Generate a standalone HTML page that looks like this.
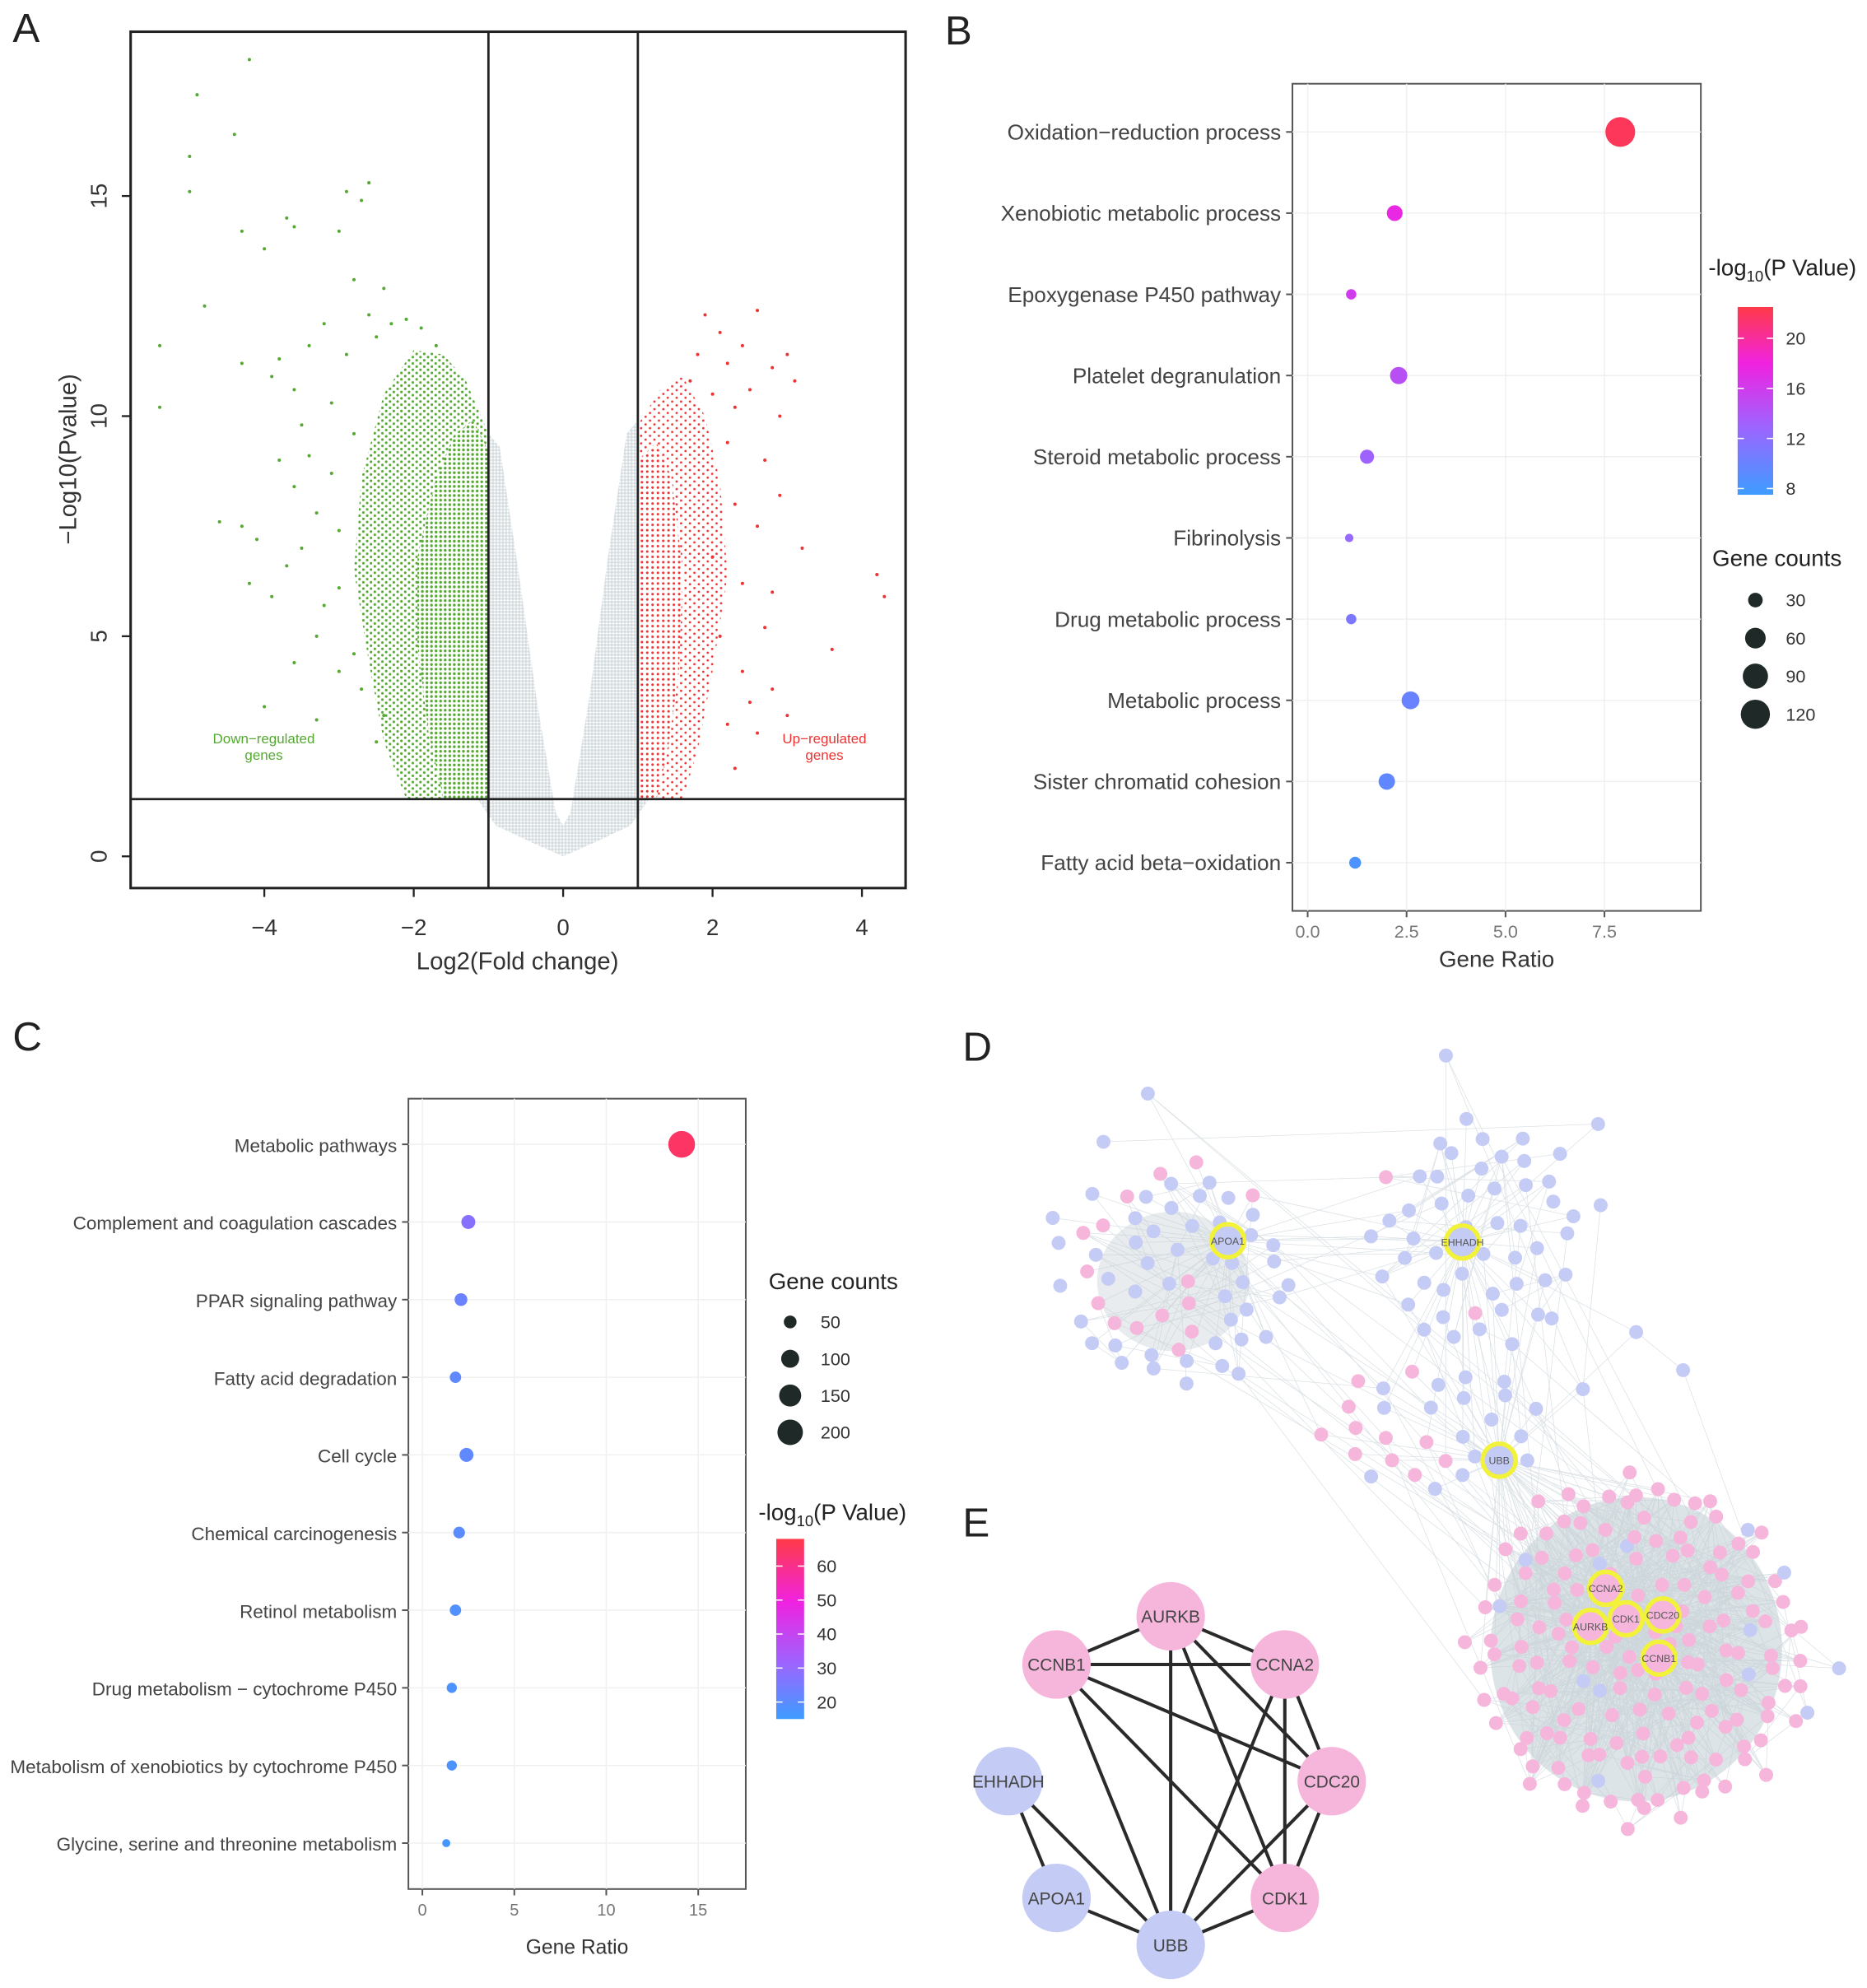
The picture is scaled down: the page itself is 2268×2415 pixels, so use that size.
<!DOCTYPE html>
<html><head><meta charset="utf-8"><style>
html,body{margin:0;padding:0;background:#fff}
svg{display:block;font-family:"Liberation Sans",sans-serif}
</style></head><body>
<svg id="fig" width="2268" height="2415" viewBox="0 0 1472 1567" preserveAspectRatio="none" xmlns="http://www.w3.org/2000/svg">
<defs>
<pattern id="pg" width="3.6" height="3.6" patternUnits="userSpaceOnUse"><rect width="3.6" height="3.6" fill="#fff"/><circle cx="1.8" cy="1.8" r="1.1" fill="#55a831"/></pattern>
<pattern id="pgs" width="6" height="5" patternUnits="userSpaceOnUse"><rect width="6" height="5" fill="#fff"/><circle cx="1.5" cy="1.5" r="1.0" fill="#55a831"/><circle cx="4.5" cy="4" r="1.0" fill="#55a831"/></pattern>
<pattern id="pr" width="4.2" height="4.2" patternUnits="userSpaceOnUse"><rect width="4.2" height="4.2" fill="#fff"/><circle cx="2.1" cy="2.1" r="1.0" fill="#ee3333"/></pattern>
<pattern id="prs" width="7" height="6" patternUnits="userSpaceOnUse"><rect width="7" height="6" fill="#fff"/><circle cx="1.5" cy="1.5" r="0.9" fill="#ee3333"/><circle cx="5" cy="4.5" r="0.9" fill="#ee3333"/></pattern>
<pattern id="pgr" width="2.6" height="2.6" patternUnits="userSpaceOnUse"><rect width="2.6" height="2.6" fill="#fff"/><circle cx="1.3" cy="1.3" r="1.15" fill="#d4dcdf"/></pattern>
<linearGradient id="gradB" x1="0" y1="1" x2="0" y2="0"><stop offset="0" stop-color="#3d9cff"/><stop offset="0.35" stop-color="#9a66ff"/><stop offset="0.7" stop-color="#f022e0"/><stop offset="1" stop-color="#ff3a48"/></linearGradient>
<linearGradient id="gradC" x1="0" y1="1" x2="0" y2="0"><stop offset="0" stop-color="#3d9cff"/><stop offset="0.3" stop-color="#9a66ff"/><stop offset="0.65" stop-color="#f022e0"/><stop offset="1" stop-color="#ff3a48"/></linearGradient>
</defs>
<g id="root"></g>
</svg>
<script>
// ---------- Panel A data ----------
const aXTicks=[-4,-2,0,2,4];
const aYTicks=[0,5,10,15];
const greenPts=[[-4.2,18.1],[-4.9,17.3],[-4.4,16.4],[-5.0,15.9],[-5.0,15.1],[-4.3,14.2],[-4.0,13.8],[-3.7,14.5],[-3.6,14.3],[-2.9,15.1],[-2.6,15.3],[-2.7,14.9],[-3.0,14.2],[-5.4,11.6],[-5.4,10.2],[-4.8,12.5],[-4.3,11.2],[-4.3,7.5],[-4.1,7.2],[-4.2,6.2],[-4.6,7.6],[-3.5,7.0],[-3.3,5.0],[-2.8,13.1],[-2.4,12.9],[-3.9,10.9],[-3.8,11.3],[-3.6,10.6],[-3.5,9.8],[-3.4,9.1],[-3.6,8.4],[-3.7,6.6],[-3.4,11.6],[-3.2,12.1],[-3.1,10.3],[-3.1,8.7],[-3.0,7.4],[-3.0,6.1],[-3.2,5.7],[-2.9,11.4],[-2.8,9.6],[-2.8,4.6],[-2.7,3.8],[-3.0,4.2],[-3.3,7.8],[-3.8,9.0],[-3.9,5.9],[-2.6,12.3],[-2.5,11.8],[-2.3,12.1],[-2.1,12.2],[-1.9,12.0],[-1.7,11.6],[-2.4,3.2],[-2.5,2.6],[-4.0,3.4],[-3.6,4.4],[-3.3,3.1]];
const redPts=[[1.9,12.3],[2.6,12.4],[2.1,11.9],[2.4,11.6],[2.2,11.2],[3.0,11.4],[2.8,11.1],[3.1,10.8],[1.7,10.8],[2.3,10.2],[2.5,10.6],[3.2,7.0],[4.2,6.4],[4.3,5.9],[3.6,4.7],[2.5,3.5],[2.8,6.0],[2.3,8.0],[2.6,7.5],[2.1,5.0],[2.4,4.2],[2.7,9.0],[2.9,8.2],[2.2,9.4],[2.0,6.8],[2.6,2.8],[2.3,2.0],[3.0,3.2],[2.7,5.2],[2.9,10.0],[2.0,10.5],[1.8,11.4],[2.4,6.2],[2.2,3.0],[2.8,3.8]];
// dense-region outlines (data units)
const greenDense=[[-1,1.3],[-1,9.2],[-1.2,9.9],[-1.45,9.6],[-1.7,8.6],[-1.95,6.8],[-1.95,4.8],[-1.8,2.8],[-1.6,1.3]];
const greenSparse=[[-1,1.3],[-1,9.6],[-1.3,10.8],[-1.6,11.4],[-2.0,11.5],[-2.4,10.5],[-2.7,8.6],[-2.8,6.5],[-2.6,4.4],[-2.4,2.6],[-2.1,1.3]];
const redDense=[[1,1.3],[1,9.0],[1.25,9.4],[1.45,8.6],[1.6,6.5],[1.55,4.2],[1.4,2.4],[1.25,1.3]];
const redSparse=[[1,1.3],[1,9.8],[1.3,10.6],[1.6,10.9],[1.9,10.0],[2.1,8.5],[2.2,6.4],[2.0,4.2],[1.8,2.4],[1.6,1.3]];
const greyLeft=[[0,0],[-0.4,0.3],[-0.9,0.7],[-1.15,1.3],[-1.1,4],[-1.0,9.6],[-0.85,9.3],[-0.6,6.5],[-0.35,3.5],[-0.1,1.0],[0,0.7]];
const greyRight=[[0,0],[0.4,0.3],[0.9,0.7],[1.15,1.3],[1.1,4],[1.0,9.9],[0.85,9.6],[0.6,6.8],[0.35,3.6],[0.1,1.0],[0,0.7]];
// ---------- Panel B data ----------
const bCats=["Oxidation\u2212reduction process","Xenobiotic metabolic process","Epoxygenase P450 pathway","Platelet degranulation","Steroid metabolic process","Fibrinolysis","Drug metabolic process","Metabolic process","Sister chromatid cohesion","Fatty acid beta\u2212oxidation"];
const bRatio=[7.9,2.2,1.1,2.3,1.5,1.05,1.1,2.6,2.0,1.2];
const bLogP=[22,17.5,16,14.5,13,12.5,11,10,9.5,8.3];
const bCount=[125,35,15,42,28,10,15,45,38,20];
const bXTicks=[0,2.5,5,7.5];
const bXLabels=["0.0","2.5","5.0","7.5"];
const bColorTicks=[20,16,12,8];
const bSizeLegend=[30,60,90,120];
// ---------- Panel C data ----------
const cCats=["Metabolic pathways","Complement and coagulation cascades","PPAR signaling pathway","Fatty acid degradation","Cell cycle","Chemical carcinogenesis","Retinol metabolism","Drug metabolism \u2212 cytochrome P450","Metabolism of xenobiotics by cytochrome P450","Glycine, serine and threonine metabolism"];
const cRatio=[14.1,2.5,2.1,1.8,2.4,2.0,1.8,1.6,1.6,1.3];
const cLogP=[65,30,24,22,22,21,19,18,18,17];
const cCount=[220,60,50,40,60,42,40,32,32,20];
const cXTicks=[0,5,10,15];
const cColorTicks=[60,50,40,30,20];
const cSizeLegend=[50,100,150,200];
// ---------- Panel E data ----------
const eNodes=["AURKB","CCNB1","CCNA2","EHHADH","CDC20","APOA1","CDK1","UBB"];
const eKind=["p","p","p","b","p","b","p","b"];
const eEdges=[["EHHADH","APOA1"],["EHHADH","UBB"],["APOA1","UBB"],["UBB","CCNB1"],["UBB","AURKB"],["UBB","CCNA2"],["UBB","CDC20"],["CCNB1","AURKB"],["CCNB1","CCNA2"],["CCNB1","CDC20"],["CCNB1","CDK1"],["AURKB","CCNA2"],["AURKB","CDC20"],["AURKB","CDK1"],["CCNA2","CDC20"],["CCNA2","CDK1"],["CDC20","CDK1"],["UBB","CDK1"]];

const NS="http://www.w3.org/2000/svg";
const root=document.getElementById('root');
function mk(tag,attrs,parent){const e=document.createElementNS(NS,tag);for(const k in attrs)e.setAttribute(k,attrs[k]);(parent||root).appendChild(e);return e;}
function txt(s,attrs,parent){const e=mk('text',attrs,parent);e.textContent=s;return e;}
function grp(name){const g=mk('g',{});return g;}

[["A",10,33],["B",745,35],["C",10,828],["D",759,836],["E",759,1211]].forEach(l=>{
  const t=txt(l[0],{x:l[1],y:l[2],'font-size':32,fill:'#222'});
  
  
});

// ---------- Panel A ----------
(function(){
  const g=grp('volcano-plot');
  const X=v=>444+v*58.9, Y=v=>675-v*34.7;
  const pts=a=>a.map(p=>X(p[0])+','+Y(p[1])).join(' ');
  const poly=(arr,fill,name)=>{const p=mk('polygon',{points:pts(arr),fill:fill},g);
    
    };
  poly(greyLeft,'url(#pgr)','ns-points-left');
  poly(greyRight,'url(#pgr)','ns-points-right');
  poly(greenSparse,'url(#pgs)','down-regulated-sparse');
  poly(greenDense,'url(#pg)','down-regulated-dense');
  poly(redSparse,'url(#prs)','up-regulated-sparse');
  poly(redDense,'url(#pr)','up-regulated-dense');
  greenPts.forEach(p=>{const c=mk('circle',{cx:X(p[0]),cy:Y(p[1]),r:1.3,fill:'#55a831'},g);
    
    });
  redPts.forEach(p=>{const c=mk('circle',{cx:X(p[0]),cy:Y(p[1]),r:1.3,fill:'#ee3333'},g);
    
    });
  const fr=mk('rect',{x:103,y:25,width:611,height:675,fill:'none',stroke:'#222','stroke-width':2},g);
  
  
  [[X(-1),25,X(-1),700],[X(1),25,X(1),700],[103,Y(1.3),714,Y(1.3)]].forEach(l=>{
    const ln=mk('line',{x1:l[0],y1:l[1],x2:l[2],y2:l[3],stroke:'#222','stroke-width':1.8},g);
    
    
  });
  aXTicks.forEach(v=>{mk('line',{x1:X(v),y1:700,x2:X(v),y2:707,stroke:'#222','stroke-width':1.5},g);
    const t=txt(v<0?'\u2212'+(-v):String(v),{x:X(v),y:737,'font-size':18,'text-anchor':'middle',fill:'#333'},g);
    
    });
  aYTicks.forEach(v=>{mk('line',{x1:96,y1:Y(v),x2:103,y2:Y(v),stroke:'#222','stroke-width':1.5},g);
    const t=txt(String(v),{x:0,y:0,'font-size':18,'text-anchor':'middle',fill:'#333',transform:`translate(84,${Y(v)}) rotate(-90)`},g);
    
    });
  const xt=txt('Log2(Fold change)',{x:408,y:764,'font-size':19,'text-anchor':'middle',fill:'#333'},g);
  
  
  const yt=txt('\u2212Log10(Pvalue)',{x:0,y:0,'font-size':19,'text-anchor':'middle',fill:'#333',transform:'translate(60,362) rotate(-90)'},g);
  
  
  const d1=txt('Down\u2212regulated',{x:208,y:586,'font-size':11,'text-anchor':'middle',fill:'#55a831'},g);
  
  
  txt('genes',{x:208,y:599,'font-size':11,'text-anchor':'middle',fill:'#55a831'},g);
  const u1=txt('Up\u2212regulated',{x:650,y:586,'font-size':11,'text-anchor':'middle',fill:'#ee3333'},g);
  
  
  txt('genes',{x:650,y:599,'font-size':11,'text-anchor':'middle',fill:'#ee3333'},g);
})();

function colorAt(t){
  const stops=[[0,[61,156,255]],[0.35,[154,102,255]],[0.7,[240,34,224]],[1,[255,58,72]]];
  t=Math.max(0,Math.min(1,t));
  for(let i=1;i<stops.length;i++){if(t<=stops[i][0]){const a=stops[i-1],b=stops[i],f=(t-a[0])/(b[0]-a[0]);
    return 'rgb('+a[1].map((c,j)=>Math.round(c+(b[1][j]-c)*f)).join(',')+')';}}
  return 'rgb(255,58,72)';
}

function dotPlot(o){
  const g=grp(o.name);
  const X=v=>o.x0+v*o.xs;
  mk('rect',{x:o.fx,y:o.fy,width:o.fw,height:o.fh,fill:'#fff',stroke:'#555','stroke-width':1.3},g);
  o.xticks.forEach(v=>mk('line',{x1:X(v),y1:o.fy,x2:X(v),y2:o.fy+o.fh,stroke:'#f0f0f0','stroke-width':1},g));
  o.cats.forEach((c,i)=>{const y=o.y0+i*o.ys;
    mk('line',{x1:o.fx,y1:y,x2:o.fx+o.fw,y2:y,stroke:'#f0f0f0','stroke-width':1},g);
    mk('line',{x1:o.fx-5,y1:y,x2:o.fx,y2:y,stroke:'#555','stroke-width':1.3},g);
    const t=txt(c,{x:o.fx-9,y:y+6,'font-size':o.fs,'text-anchor':'end',fill:'#444'},g);
    
    
    const dot=mk('circle',{cx:X(o.ratio[i]),cy:y,r:o.rad(o.count[i]),fill:colorAt((o.logp[i]-o.pmin)/(o.pmax-o.pmin))},g);
    
    
  });
  o.xticks.forEach((v,i)=>{mk('line',{x1:X(v),y1:o.fy+o.fh,x2:X(v),y2:o.fy+o.fh+5,stroke:'#555','stroke-width':1.3},g);
    const t=txt(o.xlabels[i],{x:X(v),y:o.fy+o.fh+21,'font-size':o.tfs,'text-anchor':'middle',fill:'#777'},g);
    
    });
  const xt=txt('Gene Ratio',{x:o.fx+o.fw/2,y:o.xty,'font-size':o.xtfs,'text-anchor':'middle',fill:'#333'},g);
  
  
  const ct=txt('-log',{x:o.ctx,y:o.cty,'font-size':18,fill:'#222'},g);
  
  
  const sub=mk('tspan',{'font-size':12,dy:5},ct);sub.textContent='10';
  const rest=mk('tspan',{dy:-5},ct);rest.textContent='(P Value)';
  const cb=mk('rect',{x:o.cbx,y:o.cby,width:o.cbw,height:o.cbh,fill:o.grad},g);
  
  
  o.cticks.forEach(v=>{const y=o.cby+o.cbh-(v-o.pmin)/(o.pmax-o.pmin)*o.cbh;
    mk('line',{x1:o.cbx,y1:y,x2:o.cbx+5,y2:y,stroke:'#fff','stroke-width':1},g);
    mk('line',{x1:o.cbx+o.cbw-5,y1:y,x2:o.cbx+o.cbw,y2:y,stroke:'#fff','stroke-width':1},g);
    const t=txt(String(v),{x:o.cbx+o.cbw+10,y:y+5,'font-size':14,fill:'#333'},g);
    
    });
  const st=txt('Gene counts',{x:o.stx,y:o.sty,'font-size':18,fill:'#222'},g);
  
  
  o.sizes.forEach((v,i)=>{const y=o.sy0+i*o.sys;
    const c=mk('circle',{cx:o.sx,cy:y,r:o.rad(v),fill:'#1f2a28'},g);
    
    
    txt(String(v),{x:o.sx+24,y:y+5,'font-size':14,fill:'#333'},g);});
}
dotPlot({name:'go-dot-plot',fx:1019,fy:66,fw:322,fh:652,x0:1031,xs:31.2,y0:104,ys:64,cats:bCats,ratio:bRatio,logp:bLogP,count:bCount,
  pmin:7.5,pmax:22.5,rad:c=>Math.sqrt(c)*1.05,xticks:bXTicks,xlabels:bXLabels,fs:17,tfs:14,xty:762,xtfs:18,
  ctx:1347,cty:217,cbx:1370,cby:242,cbw:28,cbh:148,grad:'url(#gradB)',cticks:bColorTicks,
  stx:1350,sty:446,sx:1384,sy0:473,sys:30,sizes:bSizeLegend});
dotPlot({name:'kegg-dot-plot',fx:322,fy:866,fw:266,fh:623,x0:333,xs:14.5,y0:902,ys:61.2,cats:cCats,ratio:cRatio,logp:cLogP,count:cCount,
  pmin:15,pmax:68,rad:c=>Math.sqrt(c)*0.71,xticks:cXTicks,xlabels:cXTicks.map(String),fs:14.6,tfs:13,xty:1540,xtfs:16,
  ctx:598,cty:1198,cbx:612,cby:1213,cbw:22,cbh:142,grad:'url(#gradC)',cticks:cColorTicks,
  stx:606,sty:1016,sx:623,sy0:1042,sys:29,sizes:cSizeLegend});

// ---------- Panel D network ----------
const dClusters=[{name:'lipid-cluster-left',cx:928,cy:1005,rx:95,ry:95,n:60,pinkFrac:0.25},
 {name:'lipid-cluster-mid',cx:1165,cy:975,rx:85,ry:100,n:50,pinkFrac:0.05},
 {name:'middle-bridge',cx:1130,cy:1125,rx:95,ry:55,n:28,pinkFrac:0.4},
 {name:'cell-cycle-cluster',cx:1292,cy:1300,rx:135,ry:140,n:170,pinkFrac:0.93}];
const dHubs=[["APOA1",968,978,'b'],["EHHADH",1153,979,'b'],["UBB",1182,1151,'b'],["CCNA2",1266,1252,'p'],["CDC20",1311,1273,'p'],["CDK1",1282,1276,'p'],["AURKB",1254,1282,'p'],["CCNB1",1308,1307,'p']];
(function(){
  const g=grp('ppi-network');
  mk('ellipse',{cx:1290,cy:1300,rx:115,ry:120,fill:'#d5dde1',opacity:0.8},g);
  mk('ellipse',{cx:925,cy:1010,rx:60,ry:55,fill:'#e2e7ea',opacity:0.8},g);
  const eg=mk('g',{stroke:'#c3ced4','stroke-width':0.5,opacity:0.6},g);
  const ng=mk('g',{},g);
  const nodes=[];
  const GA=2.39996;
  dClusters.forEach((cl,ci)=>{for(let i=0;i<cl.n;i++){const r=Math.sqrt((i+0.5)/cl.n);const a=i*GA+ci;
    const x=cl.cx+cl.rx*r*Math.cos(a)+5*Math.sin(i*1.7),y=cl.cy+cl.ry*r*Math.sin(a)+5*Math.cos(i*2.3);
    const pink=((i*37+ci*11)%100)/100<cl.pinkFrac;
    nodes.push([x,y,pink,ci]);}});
  [[830,960],[870,900],[905,862],[1140,832],[1260,886],[1262,950],[1450,1315],[1425,1350],[1248,1095],[1327,1080],[1290,1050]].forEach(p=>nodes.push([p[0],p[1],false,4]));
  nodes.forEach((n,i)=>{
    for(let k=1;k<=3;k++){const m=nodes[(i*7+k*13)%nodes.length];if(m[3]===n[3])mk('line',{x1:n[0],y1:n[1],x2:m[0],y2:m[1]},eg);}
    if(i%5===0){const m=nodes[(i*11+3)%nodes.length];mk('line',{x1:n[0],y1:n[1],x2:m[0],y2:m[1]},eg);}
  });
  dHubs.forEach(h=>{nodes.forEach((n,i)=>{const d=Math.hypot(h[1]-n[0],h[2]-n[1]);if(d<170&&i%2===0)mk('line',{x1:h[1],y1:h[2],x2:n[0],y2:n[1]},eg);});});
  nodes.forEach(n=>{const c=mk('circle',{cx:n[0],cy:n[1],r:5.5,fill:n[2]?'#f6b6dc':'#c4cbf4'},ng);
    
    });
  dHubs.forEach(h=>{const c=mk('circle',{cx:h[1],cy:h[2],r:13,fill:h[3]==='p'?'#f6b6dc':'#c4cbf4',stroke:'#f2f23a','stroke-width':3.5},ng);
    
    
    txt(h[0],{x:h[1],y:h[2]+3,'font-size':8,'text-anchor':'middle',fill:'#555'},ng);});
})();

// ---------- Panel E ----------
const ePos={AURKB:[923,1274],CCNB1:[833,1312],CCNA2:[1013,1312],EHHADH:[795,1404],CDC20:[1050,1404],APOA1:[833,1496],CDK1:[1013,1496],UBB:[923,1533]};
(function(){
  const g=grp('hub-gene-network');
  eEdges.forEach(e=>{const a=ePos[e[0]],b=ePos[e[1]];
    const l=mk('line',{x1:a[0],y1:a[1],x2:b[0],y2:b[1],stroke:'#2a2a2a','stroke-width':2.6},g);
    
    });
  eNodes.forEach((n,i)=>{const p=ePos[n];
    const c=mk('circle',{cx:p[0],cy:p[1],r:27,fill:eKind[i]==='p'?'#f6b6dc':'#c4cbf4'},g);
    
    
    txt(n,{x:p[0],y:p[1]+5,'font-size':13.5,'text-anchor':'middle',fill:'#444'},g);});
})();
</script>
</body></html>
